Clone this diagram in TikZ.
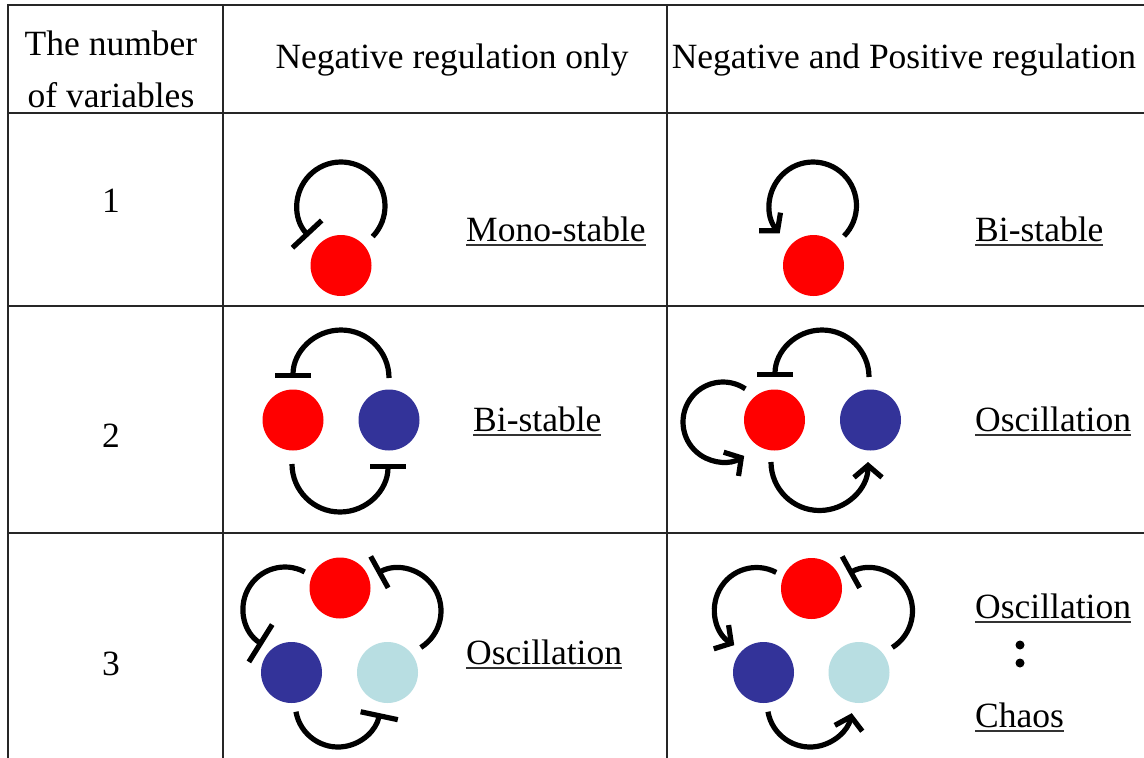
\documentclass[tikz,border=0pt]{standalone}
\usepackage{fontspec}
\setmainfont{Liberation Serif}
\usetikzlibrary{arrows.meta,calc}
\definecolor{cred}{RGB}{255,0,0}
\definecolor{cblue}{RGB}{51,51,153}
\definecolor{clight}{RGB}{184,222,226}
\newcommand{\ulword}[1]{\setbox0=\hbox{#1}\rlap{\color{black!80}\rule[-4.5pt]{\wd0}{2pt}}\box0}
\begin{document}
\begin{tikzpicture}[x=1pt,y=-1pt,
  gridline/.style={line width=1.5pt, draw=black!85},
  txt/.style={font=\fontsize{35.5}{40}\selectfont, inner sep=0pt, anchor=base},
  lbl/.style={font=\fontsize{35.5}{40}\selectfont, inner sep=0pt, anchor=base west},
  cell/.style={circle, minimum size=61pt, inner sep=0pt, draw=none},
  R/.style={cell, fill=cred},
  B/.style={cell, fill=cblue},
  L/.style={cell, fill=clight},
  inh/.style={line width=5.2pt, -{Bar[width=#1, line width=5.2pt]}},
  inh/.default=38pt,
  act/.style={line width=5.2pt, -{Straight Barb[length=12pt, width=28pt, line width=5.2pt]}}
]
\useasboundingbox (0,0) rectangle (1144,758);
\fill[white] (0,0) rectangle (1144,758);
% table grid
\draw[gridline] (8,758) -- (8,5) -- (1144,5);
\draw[gridline] (223,5) -- (223,758);
\draw[gridline] (667,5) -- (667,758);
\draw[gridline] (8,113) -- (1144,113);
\draw[gridline] (8,306) -- (1144,306);
\draw[gridline] (8,533) -- (1144,533);
% header
\node[txt] (h1) at (111,55) {The number};
\node[txt] (h2) at (111,107) {of variables};
\node[txt] (h3) at (452,68) {Negative regulation only};
\node[txt] (h4) at (904,68) {Negative and Positive regulation};
\node[txt] (k1) at (111,212) {1};
\node[txt] (k2) at (111,447) {2};
\node[txt] (k3) at (111,675) {3};
% row 1
\node[R] (r1a) at (341,265.5) {};
\draw[inh=40pt] ($(r1a)+(0,-59.5)+(44:44)$) arc[start angle=44, end angle=-223, radius=44];
\node[lbl] (l1a) at (466,241) {\ulword{Mono-stable}};
\node[R] (r1b) at (813.5,265.5) {};
\draw[act] ($(r1b)+(-0.5,-60)+(44.5:43.5)$) arc[start angle=44.5, end angle=-220, radius=43.5];
\node[lbl] (l1b) at (975,241) {\ulword{Bi-stable}};
% row 2 left
\node[R] (r2a) at (293,420) {};
\node[B] (b2a) at (389,420) {};
\draw[inh=36pt] ($(b2a)+(0,-42)$) arc[start angle=0, end angle=-180, radius=48];
\draw[inh=36pt] ($(r2a)+(-1,44)$) arc[start angle=180, end angle=0, radius=48];
\node[lbl] (l2a) at (473,431) {\ulword{Bi-stable}};
% row 2 right
\node[R] (r2b) at (774.5,420) {};
\node[B] (b2b) at (870.5,420) {};
\draw[inh=36pt] ($(b2b)+(-1.5,-43)$) arc[start angle=0, end angle=-180, radius=47];
\draw[act] ($(r2b)+(-3.5,42)$) arc[start angle=180, end angle=0, radius=48.5];
\draw[act] ($(r2b)+(-51.5,2)+(-56:40)$) arc[start angle=-56, end angle=-302, radius=40];
\node[lbl] (l2b) at (975,431) {\ulword{Oscillation}};
% row 3 left
\node[R] (r3a) at (340,588) {};
\node[B] (b3a) at (291.5,672.5) {};
\node[L] (c3a) at (387.5,672.5) {};
\draw[inh=44pt] ($(r3a)+(-55,21)+(-62:42)$) arc[start angle=-62, end angle=-238, radius=42];
\draw[inh=36pt] ($(c3a)+(10.5,-61.5)+(58:43)$) arc[start angle=58, end angle=-119, radius=43];
\draw[inh=38pt] ($(b3a)+(46.5,31.8)+(170:42.7)$) arc[start angle=170, end angle=12, radius=42.7];
\node[lbl] (l3a) at (466,664) {\ulword{Oscillation}};
% row 3 right
\node[R] (r3b) at (811.5,588.5) {};
\node[B] (b3b) at (763.5,672.5) {};
\node[L] (c3b) at (859,672.5) {};
\draw[act] ($(r3b)+(-55,21)+(-62:42)$) arc[start angle=-62, end angle=-238, radius=42];
\draw[inh=36pt] ($(c3b)+(10.5,-61.5)+(58:43)$) arc[start angle=58, end angle=-119, radius=43];
\draw[act] ($(b3b)+(46.5,31.8)+(170:42.7)$) arc[start angle=170, end angle=12, radius=42.7];
\node[lbl] (l3b) at (975,618) {\ulword{Oscillation}};
\fill (1020,645) circle[radius=4.5];
\fill (1020,663) circle[radius=4.5];
\node[lbl] (l3c) at (975,727) {\ulword{Chaos}};
\end{tikzpicture}
\end{document}
